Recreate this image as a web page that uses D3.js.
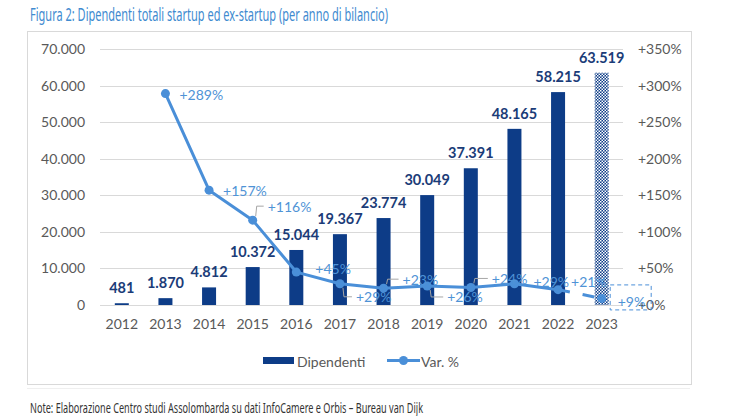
<!DOCTYPE html>
<html><head><meta charset="utf-8">
<script src="https://cdn.jsdelivr.net/npm/d3@7"></script>
<style>body{margin:0;background:#fff}svg{display:block}</style>
</head><body>
<svg id="c" width="735" height="416"></svg>
<script>
const years = ["2012","2013","2014","2015","2016","2017","2018","2019","2020","2021","2022","2023"];
const dipendenti = [481,1870,4812,10372,15044,19367,23774,30049,37391,48165,58215,63519];
const variazione = [null,289,157,116,45,29,23,26,24,29,21,9];
const leftTicks = [0,10000,20000,30000,40000,50000,60000,70000];
const rightTicks = [0,50,100,150,200,250,300,350];
const titleText = "Figura 2: Dipendenti totali startup ed ex-startup (per anno di bilancio)";
const noteText = "Note: Elaborazione Centro studi Assolombarda su dati InfoCamere e Orbis \u2013 Bureau van Dijk";

// label layout (offsets from point), leader style
const lblLayout = {
  "2013":{dx:14,dy:1,lead:null},
  "2014":{dx:14,dy:0,lead:null},
  "2015":{dx:15,dy:-14,lead:"up"},
  "2016":{dx:19,dy:-4,lead:null},
  "2017":{dx:16,dy:13,lead:"down"},
  "2018":{dx:19,dy:-9,lead:"up"},
  "2019":{dx:20,dy:11,lead:"down"},
  "2020":{dx:21,dy:-9,lead:"up"},
  "2021":{dx:19,dy:-2,lead:null},
  "2022":{dx:13,dy:-8,lead:null},
  "2023":{dx:16,dy:3,lead:null}
};

const svg = d3.select("#c");
const FONT = "Lato, 'Noto Sans', sans-serif";
const BAR = "#0d3c87", LBL = "#1b3c78", LINE = "#4a8fd8", LLBL = "#4f93d6", AX = "#595959", GRID = "#d9d9d9";

// frame
svg.append("rect").attr("x",27.5).attr("y",31.5).attr("width",664).attr("height",353)
  .attr("fill","#fff").attr("stroke","#d9d9d9");
svg.append("line").attr("x1",27).attr("x2",690).attr("y1",388.5).attr("y2",388.5).attr("stroke","#efefef");

svg.append("text").attr("x",30).attr("y",21).text(titleText)
  .attr("font-family","'Noto Sans', sans-serif").attr("font-size",17.5).attr("fill","#3f8bd0")
  .attr("textLength",358).attr("lengthAdjust","spacingAndGlyphs");
svg.append("text").attr("x",30).attr("y",413).text(noteText)
  .attr("font-family","'Noto Sans', sans-serif").attr("font-size",13.5).attr("fill","#333")
  .attr("textLength",393).attr("lengthAdjust","spacingAndGlyphs");

const x = d3.scaleBand().domain(years).range([100,623.5]).padding(0);
const cx = d => x(d) + x.bandwidth()/2;
const y = d3.scaleLinear().domain([0,70000]).range([305,49]);
const y2 = d3.scaleLinear().domain([0,350]).range([305,49]);
const bw = 14;

// pattern
const defs = svg.append("defs");
const pat = defs.append("pattern").attr("id","chk").attr("patternUnits","userSpaceOnUse")
  .attr("width",3).attr("height",3);
pat.append("rect").attr("width",3).attr("height",3).attr("fill",BAR);
pat.append("rect").attr("width",1.5).attr("height",1.5).attr("fill","#fff");
pat.append("rect").attr("x",1.5).attr("y",1.5).attr("width",1.5).attr("height",1.5).attr("fill","#fff");

// grid
svg.append("g").selectAll("line").data(leftTicks).join("line")
  .attr("x1",100).attr("x2",623).attr("y1",d=>Math.round(y(d))+0.5).attr("y2",d=>Math.round(y(d))+0.5)
  .attr("stroke",GRID).attr("stroke-width",1);

// left axis
const fmt = d3.formatLocale({decimal:",",thousands:".",grouping:[3],currency:["","€"]}).format(",d");
const la = svg.append("g").attr("transform","translate(92,0)")
  .call(d3.axisLeft(y).tickValues(leftTicks).tickFormat(fmt).tickSize(0).tickPadding(7));
la.select(".domain").remove();
la.selectAll("text").attr("font-family",FONT).attr("font-size",14).attr("fill",AX);

const ra = svg.append("g").attr("transform","translate(631,0)")
  .call(d3.axisRight(y2).tickValues(rightTicks).tickFormat(d=>"+"+d+"%").tickSize(0).tickPadding(7));
ra.select(".domain").remove();
ra.selectAll("text").attr("font-family",FONT).attr("font-size",14).attr("fill",AX);

const xa = svg.append("g").attr("transform","translate(0,313)")
  .call(d3.axisBottom(x).tickSize(0).tickPadding(6));
xa.select(".domain").remove();
xa.selectAll("text").attr("font-family",FONT).attr("font-size",14).attr("fill",AX);

// bars
svg.append("g").selectAll("rect").data(years).join("rect")
  .attr("x",d=>cx(d)-bw/2).attr("width",bw)
  .attr("y",(d,i)=>y(dipendenti[i])).attr("height",(d,i)=>y(0)-y(dipendenti[i]))
  .attr("fill",(d,i)=> i===years.length-1 ? "url(#chk)" : BAR);

svg.append("g").selectAll("text").data(years).join("text")
  .attr("x",d=>cx(d)).attr("y",(d,i)=>y(dipendenti[i])-10)
  .attr("text-anchor","middle").attr("font-family",FONT).attr("font-weight","bold")
  .attr("font-size",14.5).attr("fill",LBL).text((d,i)=>fmt(dipendenti[i]));

// line
const pts = years.map((d,i)=>({year:d,v:variazione[i]})).filter(p=>p.v!==null);
const line = d3.line().x(p=>cx(p.year)).y(p=>y2(p.v));
svg.append("path").datum(pts.slice(0,pts.length-1)).attr("d",line)
  .attr("fill","none").attr("stroke",LINE).attr("stroke-width",3).attr("stroke-linejoin","round");
svg.append("path").datum(pts.slice(pts.length-2)).attr("d",line)
  .attr("fill","none").attr("stroke",LINE).attr("stroke-width",3).attr("stroke-dasharray","12,13");
svg.append("g").selectAll("circle").data(pts).join("circle")
  .attr("cx",p=>cx(p.year)).attr("cy",p=>y2(p.v)).attr("r",4.5).attr("fill",LINE);

// leaders
const lg = svg.append("g");
pts.forEach(p=>{
  const L = lblLayout[p.year]; if(!L.lead) return;
  const px = cx(p.year), py = y2(p.v), ly = py + L.dy;
  const lx = px + L.dx - 4;
  lg.append("polyline").attr("points",`${px+3},${py + (L.lead==="up"?-4:4)} ${px+4},${ly} ${lx},${ly}`)
    .attr("fill","none").attr("stroke","#a6a6a6").attr("stroke-width",1);
});

// line labels
svg.append("g").selectAll("text").data(pts).join("text")
  .attr("x",p=>cx(p.year)+lblLayout[p.year].dx).attr("y",p=>y2(p.v)+lblLayout[p.year].dy)
  .attr("dominant-baseline","central")
  .attr("font-family",FONT).attr("font-size",14).attr("fill",LLBL)
  .text(p=>"+"+p.v+"%");

// dashed box for last label
const last = pts[pts.length-1];
svg.append("rect").attr("x",cx(last.year)+8.5).attr("y",y2(last.v)-13.5).attr("width",41).attr("height",25)
  .attr("fill","none").attr("stroke",LINE).attr("stroke-width",1).attr("stroke-dasharray","4,3");

// legend
svg.append("rect").attr("x",263).attr("y",357).attr("width",31).attr("height",7).attr("fill",BAR);
svg.append("text").attr("x",297).attr("y",361).attr("dominant-baseline","central")
  .attr("font-family",FONT).attr("font-size",14).attr("fill",AX).text("Dipendenti");
svg.append("line").attr("x1",387).attr("x2",420).attr("y1",360.5).attr("y2",360.5).attr("stroke",LINE).attr("stroke-width",3);
svg.append("circle").attr("cx",403.5).attr("cy",360.5).attr("r",4.5).attr("fill",LINE);
svg.append("text").attr("x",421).attr("y",361).attr("dominant-baseline","central")
  .attr("font-family",FONT).attr("font-size",14).attr("fill",AX).text("Var. %");
</script>
</body></html>
